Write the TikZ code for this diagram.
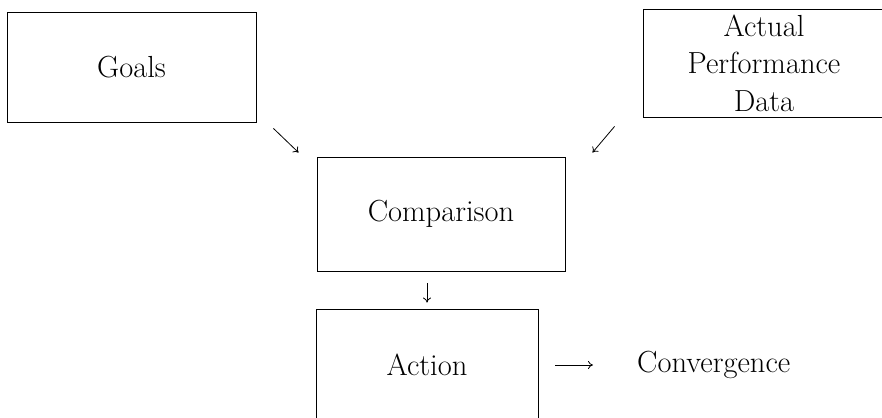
\documentclass[tikz,border=0pt]{standalone}
\usetikzlibrary{arrows.meta}
\begin{document}
\begin{tikzpicture}[x=1pt,y=-1pt,
  box/.style={draw,line width=0.9pt,inner sep=0pt,align=center},
  lbl/.style={font=\fontsize{30.5}{37.5}\selectfont},
  arr/.style={line width=0.8pt,-{To[length=5pt,width=8pt]}}]
\useasboundingbox (0,0) rectangle (882,417);
\node[box,lbl,minimum width=242pt,minimum height=108pt] (actual) at (764,63) {Actual\\Performance\\Data};
\node[box,lbl,minimum width=249pt,minimum height=110pt] (goals) at (131.5,67) {Goals};
\node[box,lbl,minimum width=248pt,minimum height=114pt] (comp) at (441,214) {Comparison};
\node[box,lbl,minimum width=222pt,minimum height=112pt] (action) at (427,365) {Action};
\node[lbl,inner sep=0pt,anchor=west] (conv) at (637,365) {Convergence};
\draw[arr] ([xshift=17pt,yshift=-6pt]goals.south east) -- ([xshift=-18pt,yshift=4pt]comp.north west);
\draw[arr] ([xshift=-28pt,yshift=-9pt]actual.south west) -- ([xshift=27pt,yshift=4pt]comp.north east);
\draw[arr] ([yshift=-12pt]comp.south -| action.north) -- ([yshift=6pt]action.north);
\draw[arr] ([xshift=17pt]action.east) -- ([xshift=-44pt]conv.west);
\end{tikzpicture}
\end{document}
